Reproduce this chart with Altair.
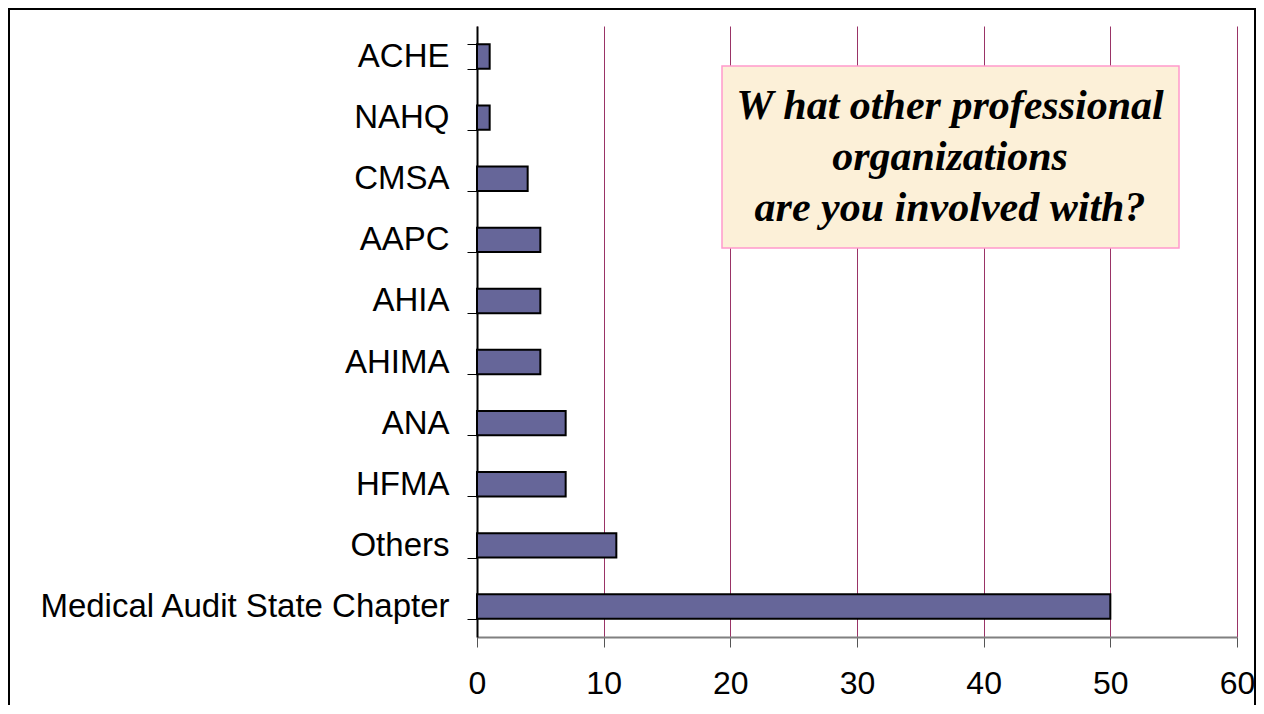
import altair as alt
import pandas as pd

organizations = ["ACHE", "NAHQ", "CMSA", "AAPC", "AHIA", "AHIMA", "ANA", "HFMA",
                 "Others", "Medical Audit State Chapter"]
counts = [1, 1, 4, 5, 5, 5, 7, 7, 11, 50]
x_ticks = [0, 10, 20, 30, 40, 50, 60]
note_lines = ["W hat other professional", "organizations", " are you involved with?"]

df = pd.DataFrame({"org": organizations, "count": counts})
one = pd.DataFrame({"k": [0]})

W, H = 760, 611

bars = alt.Chart(df).mark_bar(color="#666699", stroke="black", strokeWidth=2).encode(
    y=alt.Y("org:N", sort=organizations,
            scale=alt.Scale(paddingInner=0.6, paddingOuter=0.3),
            axis=alt.Axis(title=None, tickBand="extent", labelFont="Liberation Sans",
                          labelFontSize=33, labelColor="black", labelPadding=18,
                          tickSize=10, tickColor="black", tickWidth=1,
                          domainColor="black", domainWidth=2, grid=False, labelLimit=700)),
    x=alt.X("count:Q", scale=alt.Scale(domain=[0, 60], nice=False),
            axis=alt.Axis(title=None, values=x_ticks, grid=True, gridColor="#993366",
                          gridWidth=1, tickSize=10, tickColor="#555555", tickWidth=1,
                          domainColor="#808080", domainWidth=2,
                          labelFont="Liberation Sans", labelFontSize=32, labelPadding=21,
                          labelColor="black", labelFlush=False)),
)

border = alt.Chart(one).mark_rect(fillOpacity=0, stroke="black", strokeWidth=2).encode(
    x=alt.value(-468), x2=alt.value(778), y=alt.value(-17), y2=alt.value(700)
)

box = alt.Chart(one).mark_rect(fill="#fcf0d8", stroke="#ff99cc", strokeWidth=1.5).encode(
    x=alt.value(245), x2=alt.value(702), y=alt.value(40), y2=alt.value(222)
)

note = alt.Chart(one).mark_text(
    font="Liberation Serif", fontStyle="italic", fontWeight="bold", fontSize=42,
    align="center", baseline="alphabetic", lineHeight=51, color="black"
).encode(x=alt.value(473), y=alt.value(93), text=alt.value(note_lines))

chart = alt.layer(border, bars, box, note).properties(
    width=W, height=H,
    padding={"left": 469, "top": 18, "right": 19, "bottom": 68},
    autosize=alt.AutoSizeParams(type="none"),
    background="white",
).configure_view(stroke=None)

chart.save("out.html", embed_options={"renderer": "svg", "actions": False})
